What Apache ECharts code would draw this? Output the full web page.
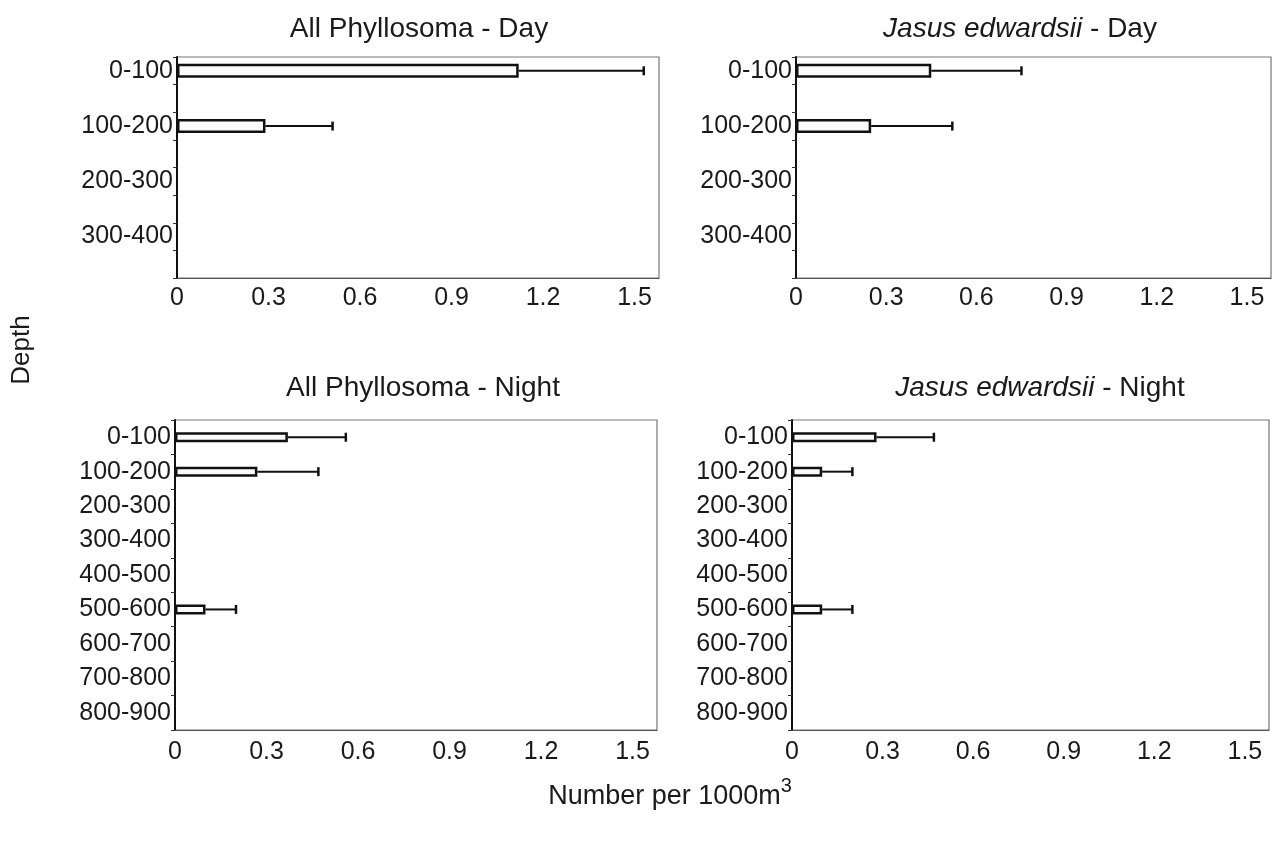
<!DOCTYPE html>
<html>
<head>
<meta charset="utf-8">
<script src="https://cdn.jsdelivr.net/npm/echarts@6/dist/echarts.min.js"></script>
<style>
html,body{margin:0;padding:0;background:#fff;}
#chart{width:1272px;height:843px;}
</style>
</head>
<body>
<div id="chart"></div>
<script>
// ---- data ----
const depthsDay = ['0-100', '100-200', '200-300', '300-400'];
const depthsNight = ['0-100', '100-200', '200-300', '300-400', '400-500', '500-600', '600-700', '700-800', '800-900'];
const xTickLabels = [0, 0.3, 0.6, 0.9, 1.2, 1.5];

const allDayMean = [1.12, 0.29, 0, 0];
const allDaySE = [0.41, 0.22, 0, 0];
const jasusDayMean = [0.45, 0.25, 0, 0];
const jasusDaySE = [0.30, 0.27, 0, 0];
const allNightMean = [0.37, 0.27, 0, 0, 0, 0.10, 0, 0, 0];
const allNightSE = [0.19, 0.20, 0, 0, 0, 0.10, 0, 0, 0];
const jasusNightMean = [0.28, 0.10, 0, 0, 0, 0.10, 0, 0, 0];
const jasusNightSE = [0.19, 0.10, 0, 0, 0, 0.10, 0, 0, 0];

const titles = [
  { italic: '', rest: 'All Phyllosoma - Day' },
  { italic: 'Jasus edwardsii', rest: ' - Day' },
  { italic: '', rest: 'All Phyllosoma - Night' },
  { italic: 'Jasus edwardsii', rest: ' - Night' }
];

// ---- layout ----
const FONT = '"Liberation Sans", Arial, Helvetica, sans-serif';
const TXT = '#1a1a1a';
const X_MAX = 1.58;
const LABEL_SIZE = 25;
const TITLE_SIZE = 28;
const panels = [
  { cats: depthsDay, mean: allDayMean, se: allDaySE, spread: 2, grid: { left: 177, top: 57, width: 482, height: 221 }, barW: 14, xMargin: 8, title: titles[0], tx: 419, ty: 29 },
  { cats: depthsDay, mean: jasusDayMean, se: jasusDaySE, spread: 2, grid: { left: 796, top: 57, width: 475, height: 221 }, barW: 14, xMargin: 8, title: titles[1], tx: 1020, ty: 29 },
  { cats: depthsNight, mean: allNightMean, se: allNightSE, spread: 1, grid: { left: 175, top: 420, width: 482, height: 310 }, barW: 10, xMargin: 10, title: titles[2], tx: 423, ty: 388 },
  { cats: depthsNight, mean: jasusNightMean, se: jasusNightSE, spread: 1, grid: { left: 792, top: 420, width: 477, height: 310 }, barW: 10, xMargin: 10, title: titles[3], tx: 1040, ty: 388 }
];

const grids = [], xAxes = [], yAxes = [], series = [], graphics = [];

function renderErr(params, api) {
  const end = api.coord([api.value(0), api.value(1)]);
  const start = api.coord([api.value(2), api.value(1)]);
  return {
    type: 'group',
    children: [
      { type: 'line', shape: { x1: start[0], y1: start[1], x2: end[0], y2: end[1] }, style: { stroke: '#111', lineWidth: 2 } },
      { type: 'line', shape: { x1: end[0], y1: end[1] - 4.5, x2: end[0], y2: end[1] + 4.5 }, style: { stroke: '#111', lineWidth: 2.5 } }
    ]
  };
}

panels.forEach((p, i) => {
  grids.push(Object.assign({ show: true, borderColor: '#777', borderWidth: 1.2, backgroundColor: '#fff' }, p.grid));
  const slots = [];
  const barData = [];
  const errData = [];
  p.cats.forEach((c, k) => {
    slots.push(c);
    barData.push(p.mean[k] > 0 ? p.mean[k] : '-');
    if (p.se[k] > 0) errData.push([p.mean[k] + p.se[k], slots.length - 1, p.mean[k]]);
    for (let s = 1; s < p.spread; s++) { slots.push(''); barData.push('-'); }
  });
  xAxes.push({
    type: 'value', gridIndex: i, min: 0, max: X_MAX, interval: 0.3,
    axisLine: { show: true, lineStyle: { color: '#555', width: 1.2 } },
    axisTick: { show: false },
    splitLine: { show: false },
    axisLabel: {
      show: true, showMaxLabel: false, margin: p.xMargin,
      color: TXT, fontFamily: FONT, fontSize: LABEL_SIZE,
      formatter: v => (xTickLabels.some(t => Math.abs(t - v) < 1e-6) ? String(Math.round(v * 10) / 10) : '')
    }
  });
  yAxes.push({
    type: 'category', gridIndex: i, inverse: true, data: slots,
    axisLine: { show: true, lineStyle: { color: '#111', width: 2 } },
    axisTick: { show: true, length: 4, inside: false, lineStyle: { color: '#333', width: 1 } },
    axisLabel: { show: true, interval: 0, margin: 4, color: TXT, fontFamily: FONT, fontSize: LABEL_SIZE },
    splitLine: { show: false }
  });
  series.push({
    type: 'bar', xAxisIndex: i, yAxisIndex: i, data: barData, barWidth: p.barW,
    itemStyle: { color: '#fbfbfb', borderColor: '#111', borderWidth: 2.5 },
    silent: true, animation: false
  });
  series.push({
    type: 'custom', xAxisIndex: i, yAxisIndex: i, data: errData,
    encode: { x: 0, y: 1 }, renderItem: renderErr, silent: true, animation: false, z: 3
  });
  graphics.push({
    type: 'text', x: p.tx, y: p.ty,
    style: {
      text: (p.title.italic ? '{i|' + p.title.italic + '}' : '') + '{n|' + p.title.rest + '}',
      align: 'center', verticalAlign: 'middle',
      rich: {
        i: { fontFamily: FONT, fontSize: TITLE_SIZE, fontStyle: 'italic', fill: TXT },
        n: { fontFamily: FONT, fontSize: TITLE_SIZE, fill: TXT }
      }
    }
  });
});

graphics.push({
  type: 'text', x: 22, y: 350, rotation: Math.PI / 2,
  style: { text: 'Depth', align: 'center', verticalAlign: 'middle', fontFamily: FONT, fontSize: 26, fill: TXT }
});
graphics.push({
  type: 'text', x: 670, y: 797,
  style: {
    text: '{n|Number per 1000m}{s|3}',
    align: 'center', verticalAlign: 'middle',
    rich: {
      n: { fontFamily: FONT, fontSize: 27, fill: TXT, lineHeight: 42 },
      s: { fontFamily: FONT, fontSize: 20, fill: TXT, lineHeight: 42, verticalAlign: 'top' }
    }
  }
});

const chart = echarts.init(document.getElementById('chart'), null, { renderer: 'canvas' });
chart.setOption({
  animation: false,
  backgroundColor: '#fff',
  grid: grids,
  xAxis: xAxes,
  yAxis: yAxes,
  series: series,
  graphic: graphics
});
</script>
</body>
</html>
